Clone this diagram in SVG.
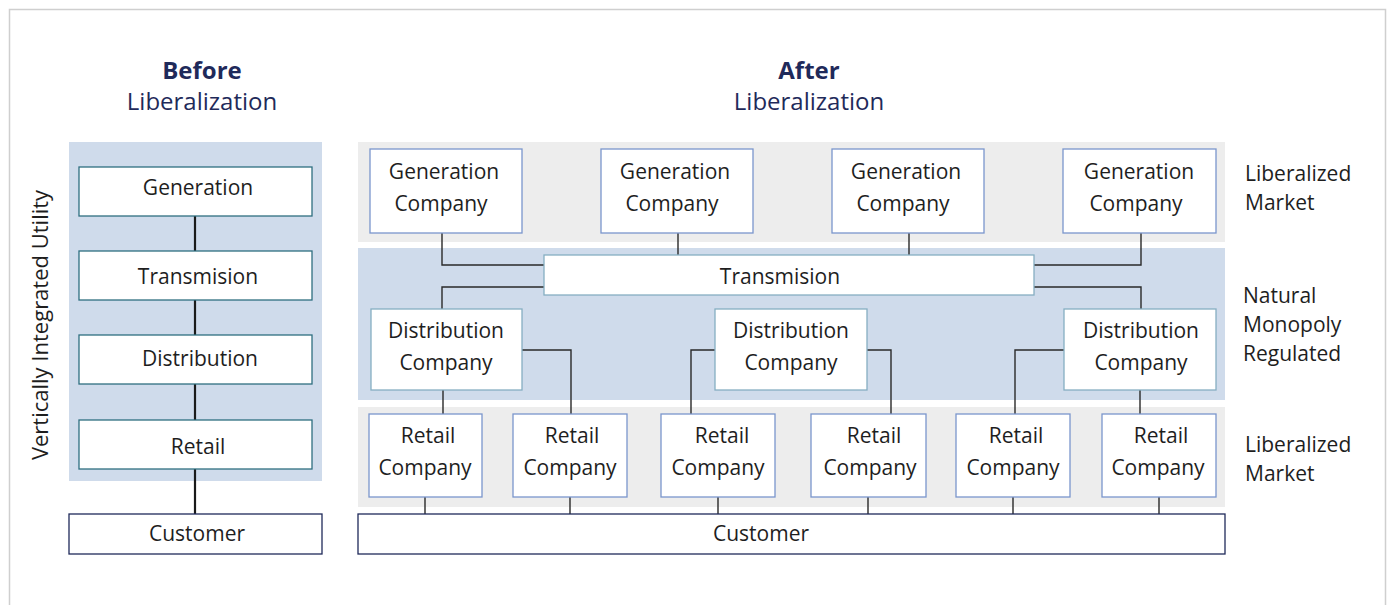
<svg xmlns="http://www.w3.org/2000/svg" width="1389" height="605" viewBox="0 0 1389 605">
<style>
text{font-family:"Open Sans","Noto Sans","DejaVu Sans",sans-serif;fill:#1e1e1e;font-size:21px;text-anchor:middle}
.title{fill:#1f2a5a;font-size:24px}
.side{text-anchor:start}
.vert{font-size:22px}
.lnode{fill:#fff;stroke:#2e6f80;stroke-width:1.3}
.cnode{fill:#fff;stroke:#1f2a5a;stroke-width:1.3}
.gnode{fill:#fff;stroke:#7a96cc;stroke-width:1.3}
.tnode{fill:#fff;stroke:#86aec2;stroke-width:1.3}
.thick{stroke:#1a1a1a;stroke-width:2.2;fill:none}
.thin{stroke:#2a2a2a;stroke-width:1.4;fill:none}
</style>
<rect x="9.5" y="9.5" width="1376" height="610" fill="#fff" stroke="#cfcfcf" stroke-width="1.5"/>
<g id="titles">
<text class="title" x="202" y="79" font-weight="bold">Before</text>
<text class="title" x="202" y="110">Liberalization</text>
<text class="title" x="809" y="79" font-weight="bold">After</text>
<text class="title" x="809" y="110">Liberalization</text>
<text class="vert" x="0" y="0" transform="translate(48,325) rotate(-90)">Vertically Integrated Utility</text>
</g>
<g id="bands">
<rect x="69" y="142" width="253" height="339" fill="#cfdbeb"/>
<rect x="358" y="142" width="867" height="100" fill="#ededed"/>
<rect x="358" y="248" width="867" height="152" fill="#cfdbeb"/>
<rect x="358" y="407" width="867" height="100" fill="#ededed"/>
</g>
<g id="connectors">
<path class="thick" d="M195 216V251M195 300V335M195 384V420M195 469V514"/>
<path class="thin" d="M442 233V265H544M678 233V255M909 233V255M1141 233V265H1034"/>
<path class="thin" d="M544 287H442V309M1034 287H1141V309"/>
<path class="thin" d="M443 390V414M522 350H571V414M715 350H691V414M867 350H891V414M1064 350H1015V414M1140 390V414"/>
<path class="thin" d="M425 497V514M570 497V514M718 497V514M868 497V514M1013 497V514M1159 497V514"/>
</g>
<g id="left-generation"><rect class="lnode" x="79" y="167" width="233" height="49"/><text x="198" y="195">Generation</text></g>
<g id="left-transmision"><rect class="lnode" x="79" y="251" width="233" height="49"/><text x="198" y="284">Transmision</text></g>
<g id="left-distribution"><rect class="lnode" x="79" y="335" width="233" height="49"/><text x="200" y="366">Distribution</text></g>
<g id="left-retail"><rect class="lnode" x="79" y="420" width="233" height="49"/><text x="198" y="454">Retail</text></g>
<g id="left-customer"><rect class="cnode" x="69" y="514" width="253" height="40"/><text x="197" y="541">Customer</text></g>

<g id="gen1"><rect class="gnode" x="370" y="149" width="152" height="84"/><text x="444" y="179">Generation</text><text x="441" y="211">Company</text></g>
<g id="gen2"><rect class="gnode" x="601" y="149" width="152" height="84"/><text x="675" y="179">Generation</text><text x="672" y="211">Company</text></g>
<g id="gen3"><rect class="gnode" x="832" y="149" width="152" height="84"/><text x="906" y="179">Generation</text><text x="903" y="211">Company</text></g>
<g id="gen4"><rect class="gnode" x="1063" y="149" width="153" height="84"/><text x="1139" y="179">Generation</text><text x="1136" y="211">Company</text></g>

<g id="transmision"><rect class="tnode" x="544" y="255" width="490" height="40"/><text x="780" y="284">Transmision</text></g>

<g id="dist1"><rect class="tnode" x="371" y="309" width="151" height="81"/><text x="446" y="338">Distribution</text><text x="446" y="370">Company</text></g>
<g id="dist2"><rect class="tnode" x="715" y="309" width="152" height="81"/><text x="791" y="338">Distribution</text><text x="791" y="370">Company</text></g>
<g id="dist3"><rect class="tnode" x="1064" y="309" width="152" height="81"/><text x="1141" y="338">Distribution</text><text x="1141" y="370">Company</text></g>

<g id="retail1"><rect class="gnode" x="369" y="414" width="113" height="83"/><text x="428" y="443">Retail</text><text x="425" y="475">Company</text></g>
<g id="retail2"><rect class="gnode" x="513" y="414" width="114" height="83"/><text x="572" y="443">Retail</text><text x="570" y="475">Company</text></g>
<g id="retail3"><rect class="gnode" x="661" y="414" width="114" height="83"/><text x="722" y="443">Retail</text><text x="718" y="475">Company</text></g>
<g id="retail4"><rect class="gnode" x="811" y="414" width="115" height="83"/><text x="874" y="443">Retail</text><text x="870" y="475">Company</text></g>
<g id="retail5"><rect class="gnode" x="956" y="414" width="114" height="83"/><text x="1016" y="443">Retail</text><text x="1013" y="475">Company</text></g>
<g id="retail6"><rect class="gnode" x="1102" y="414" width="114" height="83"/><text x="1161" y="443">Retail</text><text x="1158" y="475">Company</text></g>

<g id="customer"><rect class="cnode" x="358" y="514" width="867" height="40"/><text x="761" y="541">Customer</text></g>

<g id="side-labels">
<text class="side" x="1245" y="181">Liberalized</text>
<text class="side" x="1245" y="210">Market</text>
<text class="side" x="1243" y="303">Natural</text>
<text class="side" x="1243" y="332">Monopoly</text>
<text class="side" x="1243" y="361">Regulated</text>
<text class="side" x="1245" y="452">Liberalized</text>
<text class="side" x="1245" y="481">Market</text>
</g>
</svg>
